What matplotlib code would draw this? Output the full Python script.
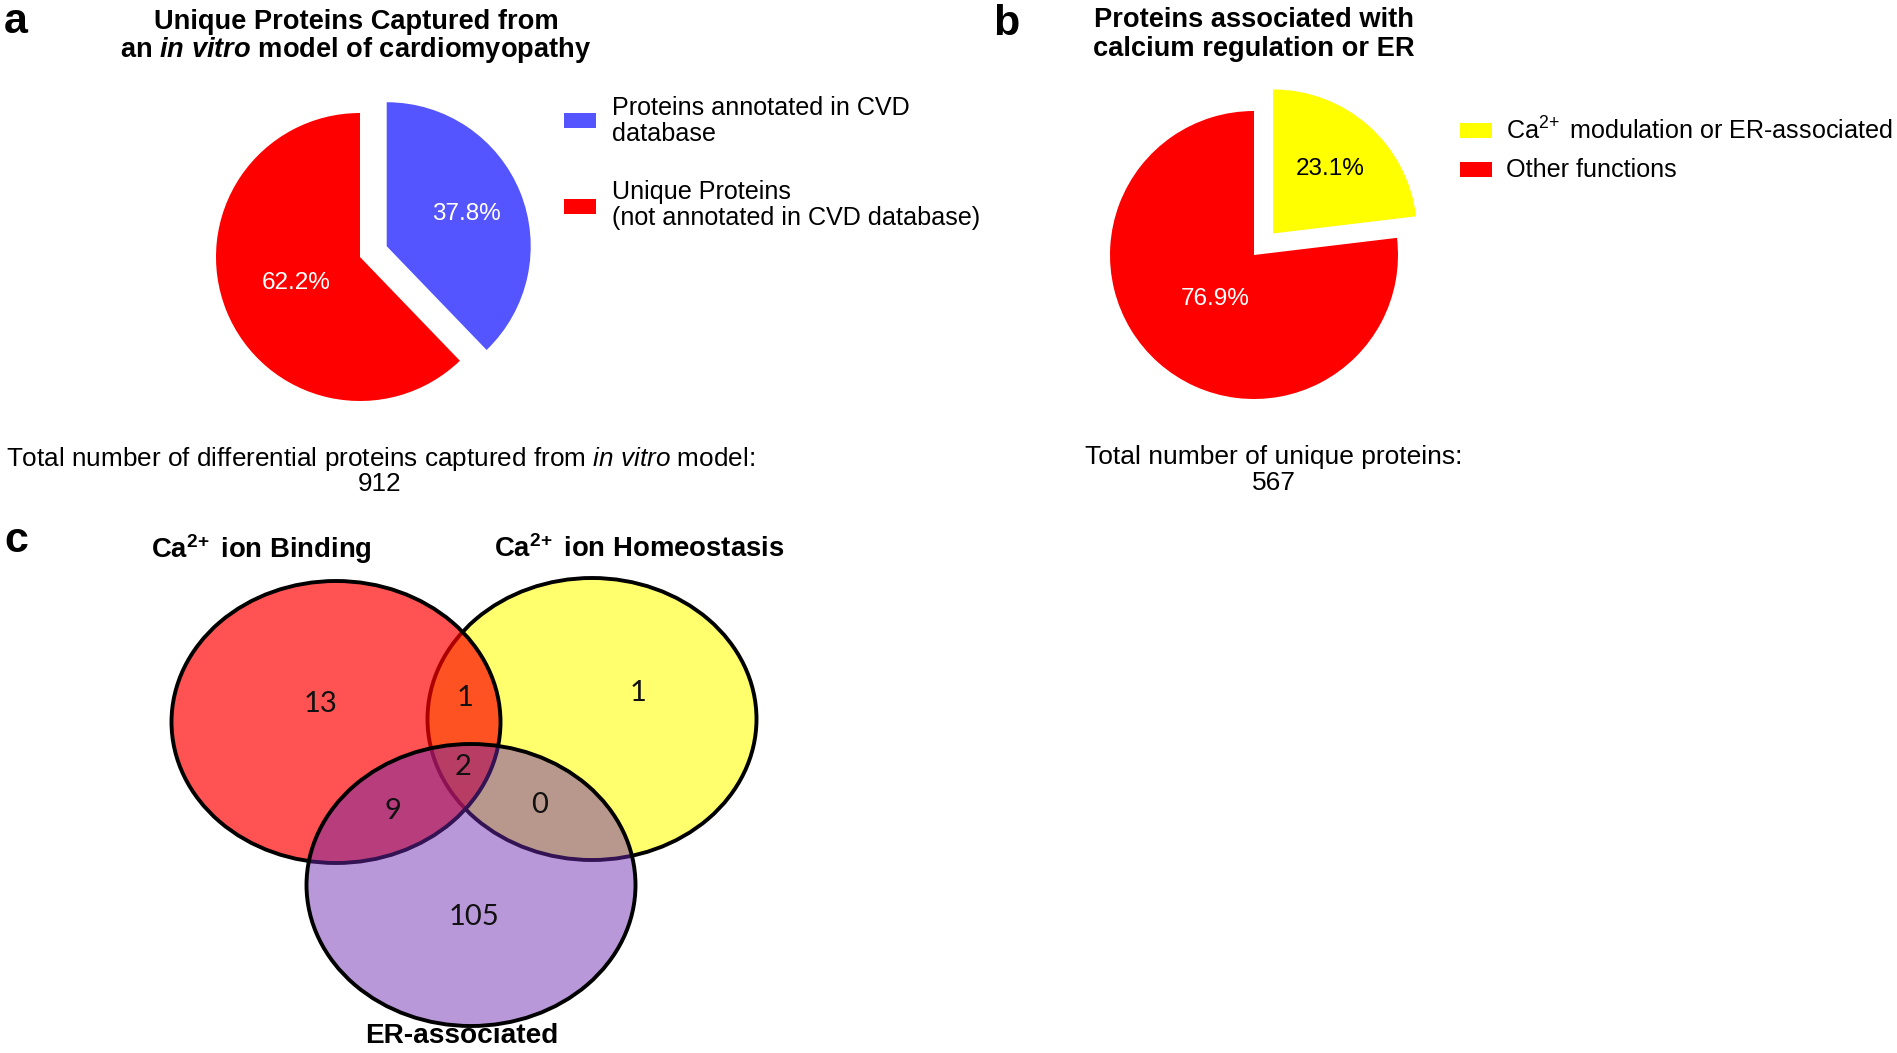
import numpy as np
import matplotlib
matplotlib.use('Agg')
import matplotlib.pyplot as plt
from matplotlib.patches import Ellipse, Rectangle

W, H = 1897, 1053

plt.rcParams['font.family'] = ['Liberation Sans', 'DejaVu Sans']
plt.rcParams['mathtext.fontset'] = 'custom'
plt.rcParams['mathtext.rm'] = 'Liberation Sans'
plt.rcParams['mathtext.it'] = 'Liberation Sans:italic'
plt.rcParams['mathtext.bf'] = 'Liberation Sans:bold'
plt.rcParams['mathtext.bfit'] = 'Liberation Sans:italic:bold'

# panel a data
a_labels = ['Proteins annotated in CVD\ndatabase', 'Unique Proteins\n(not annotated in CVD database)']
a_values = [37.8, 62.2]
a_colors = ['#5555ff', '#ff0000']
a_total = 912

# panel b data
b_labels = ['Ca$^{2\\!+}$ modulation or ER-associated', 'Other functions']
b_values = [23.1, 76.9]
b_colors = ['#ffff00', '#ff0000']
b_total = 567

# panel c data (venn)
venn_names = ['Ca$^{\\mathbf{2\\!+}}$ ion Binding', 'Ca$^{\\mathbf{2\\!+}}$ ion Homeostasis', 'ER-associated']
venn_regions = ['100', '010', '001', '110', '101', '011', '111']
venn_counts = [13, 1, 105, 1, 9, 0, 2]

fig = plt.figure(figsize=(W / 100, H / 100), dpi=100)


def px(x, y):
    return x / W, 1 - y / H


def ftext(x, y, s, **kw):
    kw.setdefault('ha', 'center')
    kw.setdefault('va', 'center')
    fig.text(*px(x, y), s, **kw)


def pie_panel(cx, cy, r, values, colors, pct_dist, pct_colors):
    ax = fig.add_axes([(cx - 1.5 * r) / W, 1 - (cy + 1.5 * r) / H, 3 * r / W, 3 * r / H])
    wedges, _, autotexts = ax.pie(values, colors=colors, explode=[0.2, 0], startangle=90,
                                  counterclock=False, autopct='%1.1f%%',
                                  wedgeprops=dict(linewidth=0),
                                  textprops=dict(fontsize=17.5))
    for w, t, d, c in zip(wedges, autotexts, pct_dist, pct_colors):
        ang = np.deg2rad((w.theta1 + w.theta2) / 2)
        wx, wy = w.center
        t.set_position((wx + d * np.cos(ang), wy + d * np.sin(ang)))
        t.set_color(c)
    ax.set_xlim(-1.5, 1.5)
    ax.set_ylim(-1.5, 1.5)
    ax.axis('off')
    return ax


def legend_box(x, y_tops, colors, labels, y_texts, tx):
    for yt, c, lab, ytx in zip(y_tops, colors, labels, y_texts):
        fig.patches.append(Rectangle(px(x, yt + 15), 32 / W, 15 / H, transform=fig.transFigure,
                                     facecolor=c, edgecolor='none'))
        ftext(tx, ytx, lab, ha='left', fontsize=18.1, linespacing=1.15)


# ---- panel a
ftext(16, 22, 'a', fontsize=31, fontweight='bold')
ftext(356, 22, 'Unique Proteins Captured from', fontsize=19.6, fontweight='bold')
ftext(356, 50, 'an $\\mathbfit{in\\ vitro}$ model of cardiomyopathy', fontsize=19.6, fontweight='bold')
pie_panel(360, 257, 144, a_values, a_colors, [0.6, 0.48], ['white', 'white'])
legend_box(564, [113, 199], a_colors, a_labels, [121, 205], 612)
ftext(380, 459, 'Total number of differential proteins captured from $\\mathit{in\\ vitro}$ model:', fontsize=18.8)
ftext(380, 484, str(a_total), fontsize=18.8)

# ---- panel b
ftext(1006, 24, 'b', fontsize=31, fontweight='bold')
ftext(1254, 20, 'Proteins associated with', fontsize=19.6, fontweight='bold')
ftext(1254, 49, 'calcium regulation or ER', fontsize=19.6, fontweight='bold')
pie_panel(1254, 255, 144, b_values, b_colors, [0.6, 0.41], ['black', 'white'])
legend_box(1460, [123, 162], b_colors, b_labels, [131, 170], 1506)
ftext(1274, 457, 'Total number of unique proteins:', fontsize=19)
ftext(1274, 483, str(b_total), fontsize=19)

# ---- panel c: venn
ftext(16, 541, 'c', fontsize=31, fontweight='bold')
vax = fig.add_axes([0, 0, 1, 1])
vax.set_xlim(0, W)
vax.set_ylim(H, 0)
vax.axis('off')

circles = [((592, 719), '#ffff00', 0.57),   # homeostasis (drawn first)
           ((336, 722), '#ff0000', 0.68),   # binding
           ((471, 885), '#6b28ae', 0.48)]   # ER-associated
for (cx, cy), col, al in circles:
    vax.add_patch(Ellipse((cx, cy), 329, 282, facecolor=matplotlib.colors.to_rgba(col, al),
                          edgecolor='black', linewidth=2.8))

region_pos = {'100': (320, 704), '010': (638, 693), '001': (474, 917), '110': (465, 698),
              '101': (393, 811), '011': (540, 805), '111': (463, 767)}
for reg, n in zip(venn_regions, venn_counts):
    x, y = region_pos[reg]
    vax.text(x, y, str(n), ha='center', va='center', fontsize=21, family=['Lato', 'DejaVu Sans'],
             color='#111111')

ftext(261, 549, venn_names[0], fontsize=19.8, fontweight='bold')
ftext(639, 549, venn_names[1], fontsize=19.8, fontweight='bold')
ftext(462, 1036, venn_names[2], fontsize=20.2, fontweight='bold')

fig.savefig('out.png', dpi=100, facecolor='white')
